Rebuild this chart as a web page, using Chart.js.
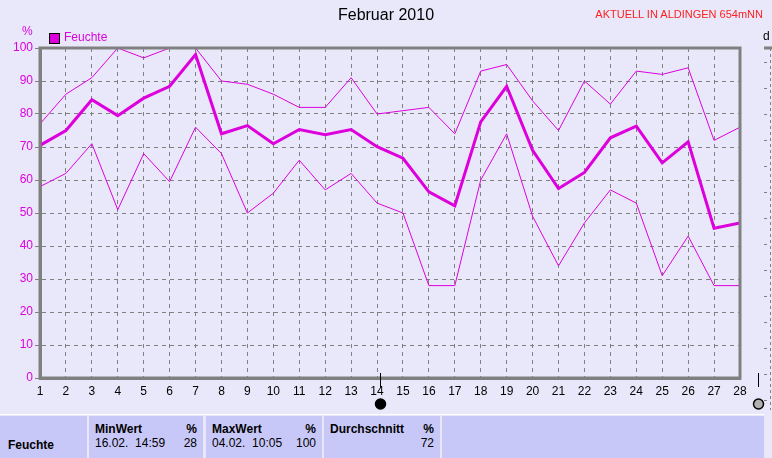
<!DOCTYPE html>
<html>
<head>
<meta charset="utf-8">
<script src="https://cdn.jsdelivr.net/npm/chart.js@4"></script>
<style>
  body { margin: 0; width: 772px; height: 458px; overflow: hidden; background: #E8E8FA; font-family: "Liberation Sans", Arial, sans-serif; position: relative; }
  #wrap { position: absolute; left: 0; top: 0; width: 772px; height: 410px; }
  .t { position: absolute; white-space: nowrap; }
  #table { position: absolute; left: 0; top: 414px; width: 764px; height: 44px; border-top: 1px solid #fff; }
  .cell { position: absolute; top: 1px; height: 44px; background: #C8C8F8; font-size: 12px; color: #000; }
  .cell b { font-weight: bold; }
</style>
</head>
<body>
<div id="wrap"><canvas id="chart" width="772" height="410"></canvas></div>

<div class="t" style="left:0;width:772px;top:6px;text-align:center;font-size:16px;color:#000;">Februar 2010</div>
<div class="t" style="right:9px;top:8px;font-size:11px;color:#FF2020;">AKTUELL IN ALDINGEN 654mNN</div>
<div class="t" style="left:22px;top:24px;font-size:12px;color:#DD00DD;">%</div>
<div class="t" style="left:49px;top:33px;width:9px;height:9px;background:#DD00DD;border:1px solid #000;"></div>
<div class="t" style="left:64px;top:30px;font-size:12px;color:#DD00DD;">Feuchte</div>
<div class="t" style="left:763px;top:29px;font-size:12px;color:#000;">d</div>

<div id="table">
  <div class="cell" style="left:0;width:87px;"><b class="t" style="left:8px;top:22px;">Feuchte</b></div>
  <div class="cell" style="left:89px;width:114px;">
    <b class="t" style="left:6px;top:6px;">MinWert</b><b class="t" style="right:6px;top:6px;">%</b>
    <span class="t" style="left:6px;top:20px;">16.02.&nbsp; 14:59</span><span class="t" style="right:6px;top:20px;">28</span>
  </div>
  <div class="cell" style="left:206px;width:116px;">
    <b class="t" style="left:6px;top:6px;">MaxWert</b><b class="t" style="right:6px;top:6px;">%</b>
    <span class="t" style="left:6px;top:20px;">04.02.&nbsp; 10:05</span><span class="t" style="right:6px;top:20px;">100</span>
  </div>
  <div class="cell" style="left:324px;width:116px;">
    <b class="t" style="left:6px;top:6px;">Durchschnitt</b><b class="t" style="right:6px;top:6px;">%</b>
    <span class="t" style="right:6px;top:20px;">72</span>
  </div>
  <div class="cell" style="left:442px;width:322px;"></div>
</div>

<script>
// days of February 2010
const days = [1, 2, 3, 4, 5, 6, 7, 8, 9, 10, 11, 12, 13, 14, 15, 16, 17, 18, 19, 20, 21, 22, 23, 24, 25, 26, 27, 28];
// daily maximum humidity (%)
const maxValues = [77, 86, 91, 100, 97, 100, 100, 90, 89, 86, 82, 82, 91, 80, 81, 82, 74, 93, 95, 84, 75, 90, 83, 93, 92, 94, 72, 76];
// daily mean humidity (%)
const avgValues = [70.5, 75, 84.3, 79.5, 84.8, 88.4, 98, 74, 76.5, 71, 75.3, 73.7, 75.3, 70.1, 66.6, 56.4, 52.2, 77.6, 88.4, 69, 57.4, 62.3, 72.8, 76.3, 65.2, 71.6, 45.4, 47];
// daily minimum humidity (%)
const minValues = [58, 62, 71, 51, 68, 59.5, 76, 68, 50, 56, 66, 57, 62, 53, 50, 28, 28, 60, 74, 49, 34, 47, 57, 53, 31, 43, 28, 28];
// moon phases (day of month incl. time fraction)
const newMoon = [14.12];
const fullMoon = [28.69];

const magenta = '#DD00DD';
const gridGray = '#808080';

const toPoints = vals => days.map((d, i) => ({ x: d, y: vals[i] }));

const framePlugin = {
  id: 'frame',
  afterDraw(chart) {
    const { ctx, chartArea: a, scales } = chart;
    ctx.save();
    ctx.strokeStyle = gridGray;
    ctx.lineWidth = 3;
    ctx.strokeRect(a.left, a.top, a.right - a.left, a.bottom - a.top);

    // moon markers below the axis
    const mark = (day, fill) => {
      const x = Math.round(scales.x.getPixelForValue(day)) + 0.5;
      ctx.strokeStyle = '#000';
      ctx.lineWidth = 1;
      ctx.beginPath();
      ctx.moveTo(x, a.bottom - 5);
      ctx.lineTo(x, a.bottom + 9);
      ctx.stroke();
      ctx.beginPath();
      ctx.arc(x, a.bottom + 26, 5, 0, Math.PI * 2);
      ctx.fillStyle = fill;
      ctx.fill();
      ctx.lineWidth = 1.5;
      ctx.stroke();
    };
    newMoon.forEach(d => mark(d, '#000'));
    fullMoon.forEach(d => mark(d, '#B0B0B0'));

    // edge of the neighbouring panel on the right
    ctx.strokeStyle = gridGray;
    ctx.lineWidth = 3;
    ctx.beginPath();
    ctx.moveTo(764, a.top);
    ctx.lineTo(772, a.top);
    ctx.stroke();
    ctx.lineWidth = 1;
    ctx.setLineDash([3, 3]);
    ctx.beginPath();
    ctx.moveTo(770.5, a.top);
    ctx.lineTo(770.5, 410);
    ctx.stroke();
    ctx.setLineDash([]);
    for (let y = a.top + 14; y < 410; y += 26) {
      ctx.beginPath();
      ctx.moveTo(764, y + 0.5);
      ctx.lineTo(767, y + 0.5);
      ctx.stroke();
    }
    ctx.restore();
  }
};

new Chart(document.getElementById('chart'), {
  type: 'line',
  data: {
    datasets: [
      { label: 'Max', data: toPoints(maxValues), borderColor: magenta, borderWidth: 1, pointRadius: 0, tension: 0 },
      { label: 'Feuchte', data: toPoints(avgValues), borderColor: magenta, borderWidth: 3, pointRadius: 0, tension: 0 },
      { label: 'Min', data: toPoints(minValues), borderColor: magenta, borderWidth: 1, pointRadius: 0, tension: 0 }
    ]
  },
  options: {
    responsive: false,
    animation: false,
    layout: { padding: { left: 0, top: 48, right: 32, bottom: 0 } },
    scales: {
      x: {
        type: 'linear',
        min: 1,
        max: 28,
        afterFit: s => { s.height = 32; },
        ticks: { stepSize: 1, color: '#000', font: { family: 'Liberation Sans', size: 12 }, padding: 6, maxRotation: 0, autoSkip: false },
        grid: { color: gridGray, drawTicks: false },
        border: { color: gridGray, width: 3, dash: [4, 4] }
      },
      y: {
        min: 0,
        max: 100,
        afterFit: s => { s.width = 40; },
        ticks: { stepSize: 10, color: magenta, font: { family: 'Liberation Sans', size: 12 }, padding: 2 },
        grid: { color: gridGray, tickLength: 5, tickColor: gridGray },
        border: { color: gridGray, width: 3, dash: [4, 4] }
      }
    },
    plugins: {
      legend: { display: false },
      tooltip: { enabled: false }
    }
  },
  plugins: [framePlugin]
});
</script>
</body>
</html>
